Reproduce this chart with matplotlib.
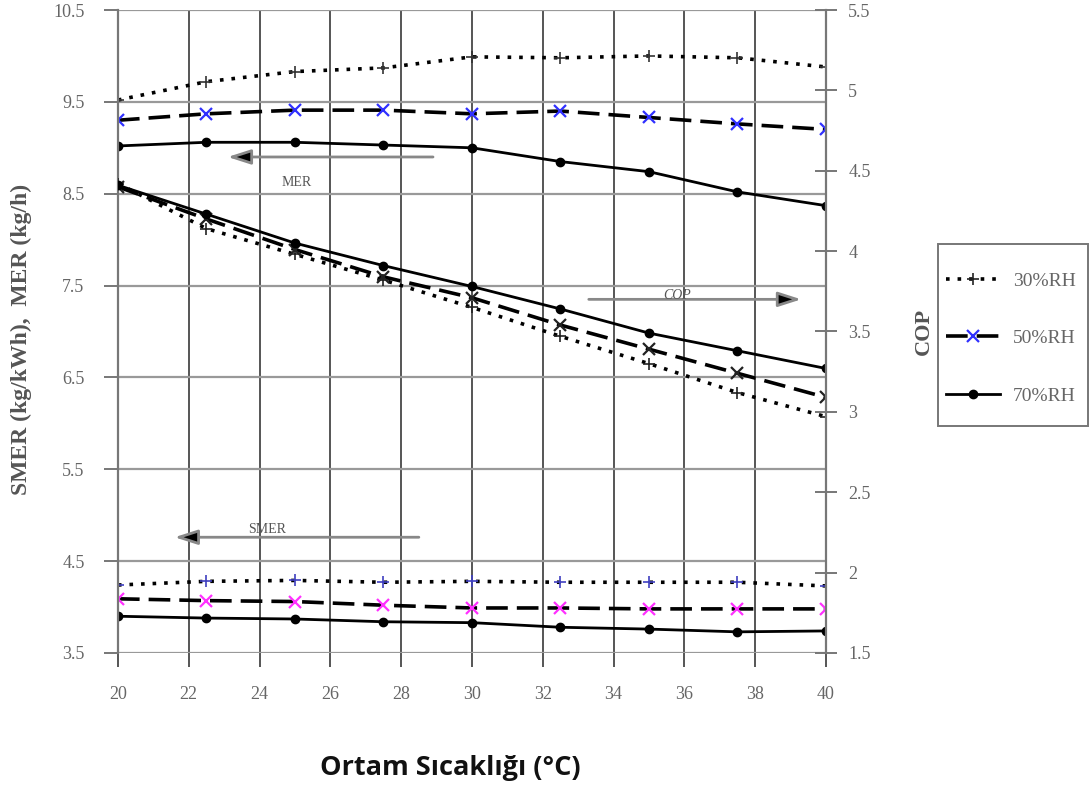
import numpy as np
import matplotlib
matplotlib.use("Agg")
import matplotlib.pyplot as plt
from matplotlib.patches import Rectangle

# Ortam sicakligi (x)
sicaklik = [20, 22.5, 25, 27.5, 30, 32.5, 35, 37.5, 40]

# MER (kg/h) - sol eksen
mer_30 = [9.52, 9.72, 9.83, 9.87, 9.99, 9.98, 10.0, 9.98, 9.88]
mer_50 = [9.30, 9.37, 9.41, 9.41, 9.37, 9.40, 9.33, 9.26, 9.20]
mer_70 = [9.02, 9.06, 9.06, 9.03, 9.00, 8.85, 8.74, 8.52, 8.37]

# SMER (kg/kWh) - sol eksen
smer_30 = [4.24, 4.28, 4.29, 4.27, 4.28, 4.27, 4.27, 4.27, 4.23]
smer_50 = [4.09, 4.07, 4.06, 4.02, 3.99, 3.99, 3.98, 3.98, 3.98]
smer_70 = [3.90, 3.88, 3.87, 3.84, 3.83, 3.78, 3.76, 3.73, 3.74]

# COP - sag eksen
cop_30 = [4.42, 4.14, 3.98, 3.82, 3.65, 3.47, 3.30, 3.12, 2.97]
cop_50 = [4.40, 4.20, 4.01, 3.84, 3.71, 3.54, 3.39, 3.24, 3.09]
cop_70 = [4.41, 4.23, 4.05, 3.91, 3.78, 3.64, 3.49, 3.38, 3.27]

x_ticks = [20, 22, 24, 26, 28, 30, 32, 34, 36, 38, 40]
sol_ticks = [3.5, 4.5, 5.5, 6.5, 7.5, 8.5, 9.5, 10.5]
sag_ticks = [1.5, 2, 2.5, 3, 3.5, 4, 4.5, 5, 5.5]
etiketler = ["30%RH", "50%RH", "70%RH"]

serif = "Liberation Serif"
tick_renk = "#666666"
W, H = 1092, 789

fig = plt.figure(figsize=(10.92, 7.89), dpi=100)
ax = fig.add_axes([0.108, 0.1724, 0.6484, 0.8149])
ax2 = ax.twinx()

# stiller
dot_style = dict(color="black", linestyle=(0, (1, 2.2)), linewidth=2.6)
dash_style = dict(color="black", linestyle=(0, (6, 2.5)), linewidth=2.6)
solid_style = dict(color="black", linestyle="-", linewidth=2.0)

# MER
ax.plot(sicaklik, mer_30, marker="+", ms=9, mec="#333333", mew=1.2, **dot_style)
ax.plot(sicaklik, mer_50, marker="x", ms=8, mec="#3030ff", mew=1.6, **dash_style)
ax.plot(sicaklik, mer_70, marker="o", ms=6, mfc="black", mec="black", **solid_style)

# SMER
ax.plot(sicaklik, smer_30, marker="+", ms=9, mec="#4040c0", mew=1.2, **dot_style)
ax.plot(sicaklik, smer_50, marker="x", ms=8, mec="#ff30ff", mew=1.6, **dash_style)
ax.plot(sicaklik, smer_70, marker="o", ms=6, mfc="black", mec="black", **solid_style)

# COP
l1, = ax2.plot(sicaklik, cop_30, marker="+", ms=9, mec="#222222", mew=1.2, **dot_style)
l2, = ax2.plot(sicaklik, cop_50, marker="x", ms=8, mec="#222222", mew=1.6, **dash_style)
l3, = ax2.plot(sicaklik, cop_70, marker="o", ms=6, mfc="black", mec="black", **solid_style)

ax.set_xlim(20, 40)
ax.set_ylim(3.5, 10.5)
ax2.set_ylim(1.5, 5.5)

ax.set_xticks(x_ticks)
ax.set_yticks(sol_ticks)
ax2.set_yticks(sag_ticks)
ax2.set_yticklabels([("%g" % v) for v in sag_ticks])
ax.set_yticklabels([("%g" % v) for v in sol_ticks])

ax.grid(True, axis="x", color="#555555", linewidth=1.4)
ax.grid(True, axis="y", color="#999999", linewidth=1.6)
ax.set_axisbelow(True)

for a in (ax, ax2):
    for s in a.spines.values():
        s.set_visible(False)
ax.spines["left"].set_visible(True)
ax.spines["left"].set_color("#777777")
ax.spines["left"].set_linewidth(1.6)
ax2.spines["right"].set_visible(True)
ax2.spines["right"].set_color("#777777")
ax2.spines["right"].set_linewidth(1.6)

ax.tick_params(axis="x", direction="out", length=10, width=1.4, color="#555555",
               pad=14, labelsize=13, labelcolor=tick_renk)
ax.tick_params(axis="y", direction="out", length=10, width=1.4, color="#777777",
               pad=14, labelsize=13, labelcolor=tick_renk)
ax2.tick_params(axis="y", direction="inout", length=16, width=1.4, color="#777777",
                pad=8, labelsize=13, labelcolor=tick_renk)
for lab in ax.get_xticklabels() + ax.get_yticklabels() + ax2.get_yticklabels():
    lab.set_fontfamily(serif)

ax.set_ylabel("SMER (kg/kWh),  MER (kg/h)", family=serif, fontweight="bold",
              fontsize=17, color="#555555")
ax.yaxis.set_label_coords(-0.121, 0.487)
ax2.set_ylabel("COP", family=serif, fontweight="bold", fontsize=16,
               color="#555555", labelpad=31)

fig.text(450 / W, 0.027, "Ortam Sıcaklığı (°C)", ha="center", va="center",
         fontsize=19.5, fontweight="bold", family="Open Sans", color="#111111")

# oklar ve aciklamalar
ok = dict(arrowstyle="-|>,head_length=1.4,head_width=0.45", fc="black",
          ec="#888888", lw=2, shrinkA=0, shrinkB=0)
ax.annotate("", xy=(23.1, 8.9), xytext=(28.9, 8.9), arrowprops=ok)
ax.annotate("", xy=(39.3, 7.35), xytext=(33.3, 7.35), arrowprops=ok)
ax.annotate("", xy=(21.6, 4.76), xytext=(28.5, 4.76), arrowprops=ok)
ax.text(25.05, 8.62, "MER", family=serif, fontsize=10, color="#555555",
        ha="center", va="center")
ax.text(35.8, 7.39, "COP", family=serif, fontsize=10, color="#555555",
        ha="center", va="center", style="italic")
ax.text(24.2, 4.84, "SMER", family=serif, fontsize=10, color="#555555",
        ha="center", va="center")

# lejant: cerceve ayri ciziliyor
fig.patches.append(Rectangle((938 / W, 1 - 426 / H), 150 / W, 182 / H,
                             transform=fig.transFigure, fill=False,
                             edgecolor="#777777", linewidth=1.4))
leg = fig.legend([l1, l2, l3], etiketler, loc="upper left",
                 bbox_to_anchor=(946 / W, 1 - 272 / H), frameon=False,
                 prop={"family": serif, "size": 14},
                 labelspacing=2.05, handlelength=2.8, borderpad=0,
                 handletextpad=0.65, borderaxespad=0)
for t in leg.get_texts():
    t.set_color("#666666")
leg.legend_handles[1].set_markeredgecolor("#3030ff")

fig.savefig("out.png", dpi=100)
